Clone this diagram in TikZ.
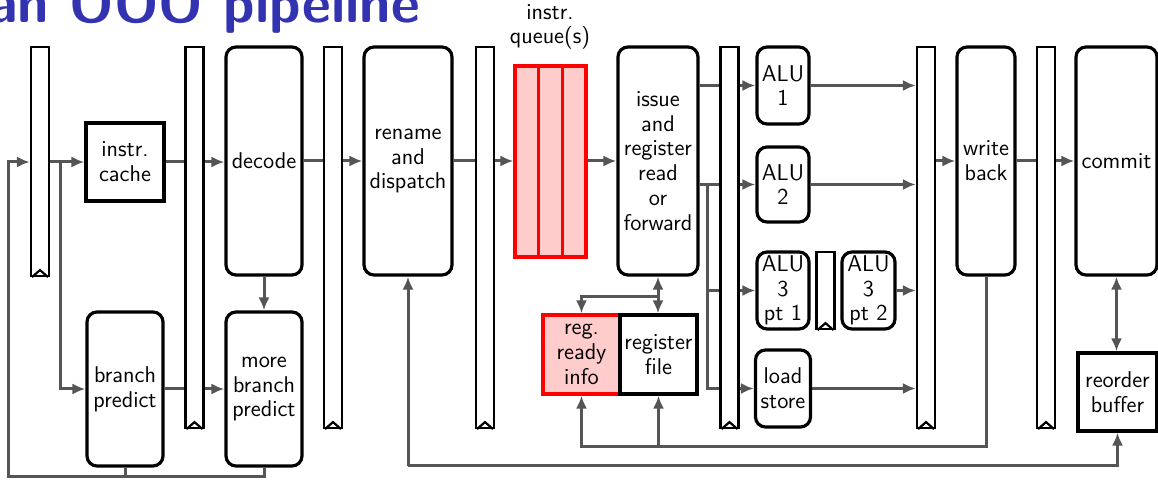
\documentclass[tikz,border=0pt]{standalone}
\usetikzlibrary{arrows.meta,backgrounds}
\definecolor{titleblue}{RGB}{51,51,178}
\definecolor{wiregray}{RGB}{85,85,85}
\begin{document}
\begin{tikzpicture}[x=0.5pt, y=-0.5pt,
    font=\sffamily\fontsize{11.4}{12.4}\selectfont,
    stage/.style={draw, line width=1.6pt, rounded corners=5pt, align=center, inner sep=0pt},
    box/.style={draw, line width=1.6pt, align=center, inner sep=0pt},
    hot/.style={draw=red, fill=red!20},
    latch/.style={draw, line width=1.1pt, fill=white, inner sep=0pt, minimum width=9pt},
    wire/.style={draw=wiregray, line width=1.5pt},
    arr/.style={wire, -{Latex[length=6.5pt,width=5.5pt]}},
    dbl/.style={wire, {Latex[length=6.5pt,width=5.5pt]}-{Latex[length=6.5pt,width=5.5pt]}}]
    \useasboundingbox (0,0) rectangle (1158,480);
    \node[anchor=base west, inner sep=0pt, text=titleblue, font=\sffamily\bfseries\fontsize{28}{30}\selectfont] (title) at (-12,23) {an OOO pipeline};

    \node[box, minimum width=39pt, minimum height=39pt] (icache) at (125,162) {instr.\\cache};
    \node[stage, minimum width=38pt, minimum height=77pt] (bp) at (125,389) {branch\\predict};
    \node[stage, minimum width=38pt, minimum height=114pt] (decode) at (264,161) {decode};
    \node[stage, minimum width=38pt, minimum height=77pt] (mbp) at (264,389) {more\\branch\\predict};
    \node[stage, minimum width=44pt, minimum height=114pt] (rename) at (408,161) {rename\\and\\dispatch};
    \foreach \q/\cx in {q1/526.8, q2/550.5, q3/574.2}
        \node[box, hot, minimum width=11.8pt, minimum height=95.5pt] (\q) at (\cx,161.5) {};
    \node[align=center] (qlabel) at (550,27) {instr.\\queue(s)};
    \node[stage, minimum width=40pt, minimum height=114pt] (issue) at (658,161) {issue\\and\\register\\read\\or\\forward};
    \node[box, hot, minimum width=38.5pt, minimum height=39.5pt] (ready) at (581.5,354.5) {reg.\\ready\\info};
    \node[box, minimum width=38.5pt, minimum height=39.5pt] (regfile) at (658.5,354.5) {register\\file};
    \node[stage, minimum width=26pt, minimum height=38.5pt] (alu1) at (783,85.5) {ALU\\1};
    \node[stage, minimum width=26pt, minimum height=37.5pt] (alu2) at (783,184.5) {ALU\\2};
    \node[stage, minimum width=26pt, minimum height=38.5pt] (alu3a) at (783,290.5) {ALU\\3\\pt 1};
    \node[stage, minimum width=26.5pt, minimum height=38.5pt] (alu3b) at (868.5,290.5) {ALU\\3\\pt 2};
    \node[stage, minimum width=27.5pt, minimum height=38.5pt] (ldst) at (783,388.5) {load\\store};
    \node[stage, minimum width=29pt, minimum height=114pt] (wb) at (986,161) {write\\back};
    \node[stage, minimum width=40.5pt, minimum height=114pt] (commit) at (1116.5,161) {commit};
    \node[box, minimum width=39.5pt, minimum height=39pt] (rob) at (1117.5,392) {reorder\\buffer};

    \foreach \r/\cx/\cy/\h in {r1/40/161.5/114.5, r2/194.5/237.5/190.5, r3/333/237.5/190.5,
        r4/485/237.5/190.5, r5/729.5/237.5/190.5, r6/825.5/290.5/38.5,
        r7/926/237.5/190.5, r8/1046/237.5/190.5}
    {
        \node[latch, minimum height=\h pt] (\r) at (\cx,\cy) {};
        \draw[line width=1.1pt] ([xshift=-4pt]\r.south) -- ([yshift=3.5pt]\r.south) -- ([xshift=4pt]\r.south);
    }

    \coordinate (loop) at (8,477);
    \coordinate (split) at (60,162);
    \coordinate (fan) at (707,184.5);
    \coordinate (rdtap) at (658,297);
    \coordinate (wbbus) at (581.5,447);
    \coordinate (robbus) at (408,466);

    \begin{scope}[on background layer]
        \draw[arr] (bp.south) |- (loop) |- (r1.west |- icache);
        \draw[wire] (mbp.south) |- (loop);
        \draw[arr] (r1.east |- icache) -- (icache.west);
        \draw[arr] (split) |- (bp.west);
        \draw[arr] (icache.east) -- (icache.east -| decode.west);
        \draw[arr] (decode) -- (mbp);
        \draw[arr] (bp) -- (mbp);
        \draw[arr] (decode) -- (rename);
        \draw[arr] (rename) -- (rename -| q1.west);
        \draw[arr] (q3.east |- issue) -- (issue);
        \draw[arr] (issue.east |- alu1) -- (alu1);
        \draw[arr] (issue.east |- alu2) -- (alu2);
        \draw[arr] (fan) |- (alu3a);
        \draw[arr] (fan) |- (ldst);
        \foreach \a in {alu1, alu2, alu3b, ldst}
            \draw[arr] (\a) -- (\a -| r7.west);
        \draw[arr] (r7.east |- wb) -- (wb);
        \draw[arr] (wb) -- (commit);
        \draw[dbl] (commit.south) -- (commit.south |- rob.north);
        \draw[dbl] (issue.south) -- (issue.south |- regfile.north);
        \draw[arr] (rdtap) -| (ready.north);
        \draw[arr] (wb.south) |- (wbbus) -- (ready.south);
        \draw[arr] (regfile.south |- wbbus) -- (regfile.south);
        \draw[arr] (robbus) -- (rename.south);
        \draw[arr] (robbus) -| (rob.south);
    \end{scope}
\end{tikzpicture}
\end{document}
